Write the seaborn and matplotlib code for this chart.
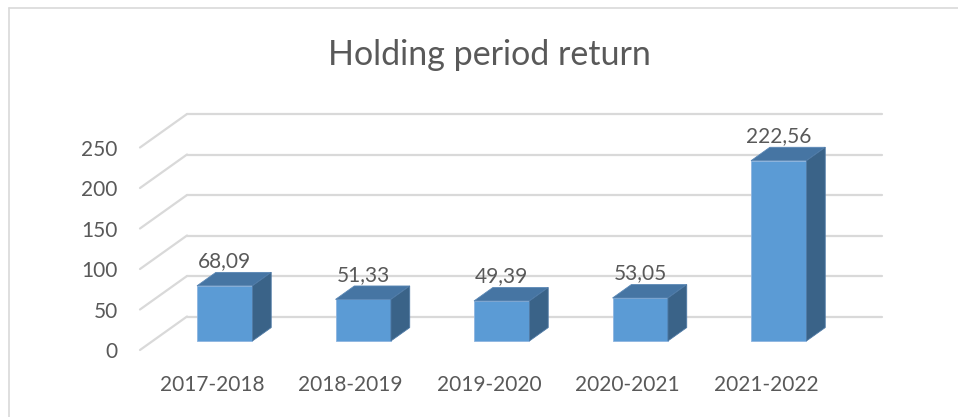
import pandas as pd
import matplotlib
matplotlib.use("Agg")
import matplotlib.pyplot as plt
import seaborn as sns
from matplotlib.patches import Polygon
from matplotlib.lines import Line2D

periods = ["2017-2018", "2018-2019", "2019-2020", "2020-2021", "2021-2022"]
returns = [68.09, 51.33, 49.39, 53.05, 222.56]
value_labels = ["68,09", "51,33", "49,39", "53,05", "222,56"]
y_ticks = [0, 50, 100, 150, 200, 250]

TEXT = "#595959"
GRID = "#D9D9D9"
FRONT = "#5B9BD5"
TOP = "#4675A3"
SIDE = "#3A6388"


def main():
    sns.set_theme(style="white")
    plt.rcParams["font.family"] = ["Lato", "DejaVu Sans"]

    fig = plt.figure(figsize=(9.58, 4.17), dpi=100)
    ax = fig.add_axes([0.14614, 0.16067, 0.72578, 0.48561])

    df = pd.DataFrame({"period": periods, "ret": returns})
    sns.barplot(data=df, x="period", y="ret", color=FRONT, width=0.4,
                saturation=1, ax=ax, zorder=3)

    ax.set_xlim(-0.52, 4.5)
    ax.set_ylim(0, 250)
    ax.set_yticks(y_ticks)
    ax.set_xlabel("")
    ax.set_ylabel("")
    sns.despine(ax=ax, left=True, bottom=True)
    ax.grid(False)
    ax.tick_params(axis="both", length=0, labelsize=15, colors=TEXT)
    ax.tick_params(axis="y", pad=16)
    ax.tick_params(axis="x", pad=18)

    # oblique projection: pixel offset of the full wall depth -> data units
    fig.canvas.draw()
    inv = ax.transData.inverted()
    o = ax.transData.transform((0, 0))
    p = inv.transform((o[0] + 47, o[1] + 33.5))
    DX, DY = p[0], p[1]
    d0, dd = 0.27, 0.40   # where the bars sit in depth, and their depth

    # back wall + side wall gridlines
    xl, xr = ax.get_xlim()
    for v in y_ticks:
        ax.plot([xl, xl + DX], [v, v + DY], color=GRID, lw=1.6,
                clip_on=False, zorder=0)
        ax.plot([xl + DX, xr + DX], [v + DY, v + DY], color=GRID, lw=1.6,
                clip_on=False, zorder=0)

    # turn the flat seaborn bars into boxes
    for bar, lab in zip(ax.patches, value_labels):
        x0 = bar.get_x() + d0 * DX
        w = bar.get_width()
        h = bar.get_height()
        y0 = d0 * DY
        bar.set_x(x0)
        bar.set_y(y0)
        bar.set_clip_on(False)
        bar.set_edgecolor("#8DB5E0")
        bar.set_linewidth(0.6)
        ex, ey = dd * DX, dd * DY
        top = Polygon([(x0, y0 + h), (x0 + w, y0 + h),
                       (x0 + w + ex, y0 + h + ey), (x0 + ex, y0 + h + ey)],
                      closed=True, fc=TOP, ec="#5A87B5", lw=0.6,
                      clip_on=False, zorder=3)
        side = Polygon([(x0 + w, y0), (x0 + w + ex, y0 + ey),
                        (x0 + w + ex, y0 + h + ey), (x0 + w, y0 + h)],
                       closed=True, fc=SIDE, ec="#4F7AA6", lw=0.6,
                       clip_on=False, zorder=3)
        ax.add_patch(top)
        ax.add_patch(side)
        ax.annotate(lab, xy=(x0 + w / 2, y0 + h + ey), xytext=(0, 8),
                    textcoords="offset points", ha="center", va="center",
                    fontsize=15, color=TEXT, annotation_clip=False)

    fig.text(489 / 958, (417 - 65) / 417, "Holding period return",
             ha="center", va="baseline", fontsize=24.5, fontweight="normal",
             color=TEXT)

    # chart frame (only the top and left edges are visible)
    fig.add_artist(Line2D([9 / 958, 9 / 958], [0, (417 - 8) / 417],
                          transform=fig.transFigure, color=GRID, lw=1.2))
    fig.add_artist(Line2D([9 / 958, 1], [(417 - 8) / 417, (417 - 8) / 417],
                          transform=fig.transFigure, color=GRID, lw=1.2))

    fig.savefig("out.png", dpi=100)


if __name__ == "__main__":
    main()
